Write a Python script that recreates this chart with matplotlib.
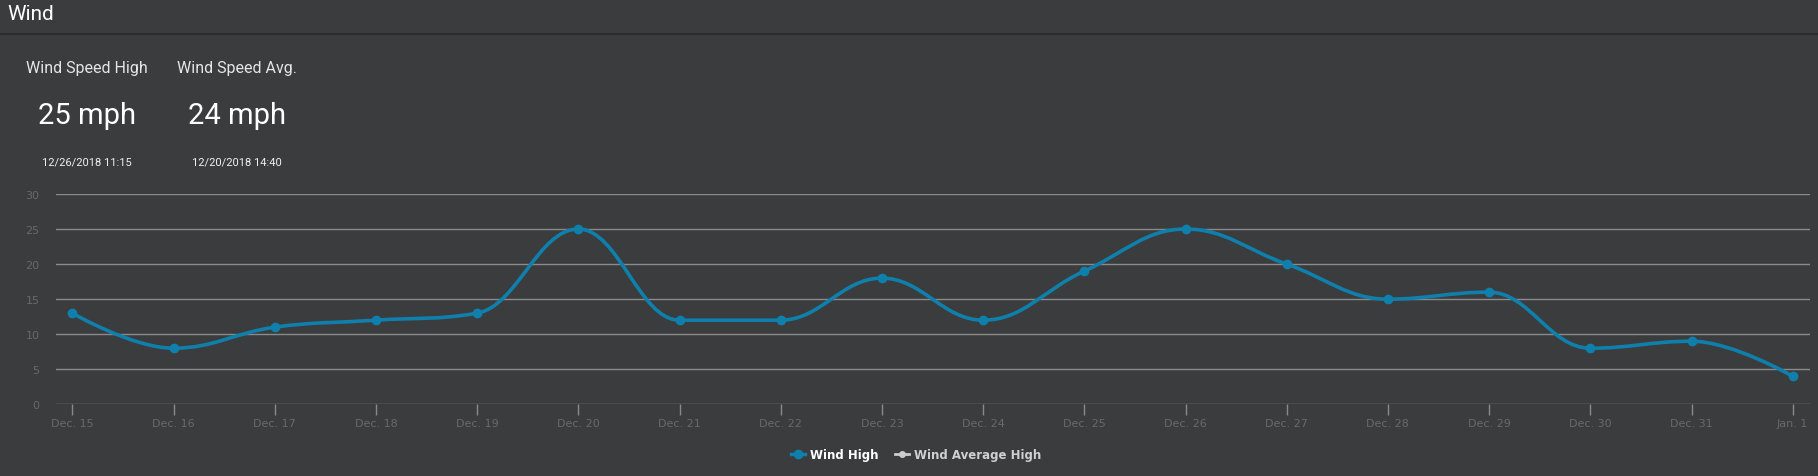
import numpy as np
import matplotlib.pyplot as plt
from matplotlib.path import Path
from matplotlib.patches import PathPatch
from matplotlib.lines import Line2D

# data
days = ['Dec. 15', 'Dec. 16', 'Dec. 17', 'Dec. 18', 'Dec. 19', 'Dec. 20',
        'Dec. 21', 'Dec. 22', 'Dec. 23', 'Dec. 24', 'Dec. 25', 'Dec. 26',
        'Dec. 27', 'Dec. 28', 'Dec. 29', 'Dec. 30', 'Dec. 31', 'Jan. 1']
wind_high = [13, 8, 11, 12, 13, 25, 12, 12, 18, 12, 19, 25, 20, 15, 16, 8, 9, 4]
y_ticks = [0, 5, 10, 15, 20, 25, 30]

stat_titles = ['Wind Speed High', 'Wind Speed Avg.']
stat_values = ['25 mph', '24 mph']
stat_times = ['12/26/2018 11:15', '12/20/2018 14:40']

BG = '#3b3c3e'
LINE = '#0f7fab'
GRID = '#8a8a8c'
TICK = '#68696b'

W, H = 1818, 477
fig = plt.figure(figsize=(W / 100, H / 100), dpi=100, facecolor=BG)


def fx(px):
    return px / W


def fy(py):
    return 1 - py / H


# header
fig.text(fx(7), fy(15), 'Wind', color='white', fontsize=15, family='Roboto',
         va='center', ha='left')
fig.add_artist(Line2D([0, 1], [fy(35), fy(35)], color='#28292a', lw=1.2))

# stat blocks
for i, (t, v, d) in enumerate(zip(stat_titles, stat_values, stat_times)):
    cx = 87 + i * 150
    fig.text(fx(cx), fy(68), t, color='#e6e6e6', fontsize=11.5, family='Roboto',
             ha='center', va='center')
    fig.text(fx(cx), fy(116), v, color='white', fontsize=21, family='Roboto',
             ha='center', va='center')
    fig.text(fx(cx), fy(163), d, color='#f0f0f0', fontsize=8, family='Roboto',
             ha='center', va='center')

# chart
ax = fig.add_axes([fx(56), fy(405.3), fx(1810 - 56), (405.3 - 195) / H])
ax.set_facecolor(BG)
x = np.arange(len(days))
ax.set_xlim(-16.3 / 101.2, (1810 - 72.3) / 101.2)
ax.set_ylim(0, 30)

for v in y_ticks:
    ax.axhline(v, color=GRID, lw=1, zorder=1)


# highcharts-like spline path through the points
def spline_path(xs, ys, smoothing=1.5):
    denom = smoothing + 1
    n = len(xs)
    lc = [None] * n
    rc = [None] * n
    for i in range(1, n - 1):
        px, py = xs[i], ys[i]
        lx, ly = xs[i - 1], ys[i - 1]
        nx, ny = xs[i + 1], ys[i + 1]
        lcx = (smoothing * px + lx) / denom
        lcy = (smoothing * py + ly) / denom
        rcx = (smoothing * px + nx) / denom
        rcy = (smoothing * py + ny) / denom
        if rcx != lcx:
            corr = (rcy - lcy) * (rcx - px) / (rcx - lcx) + py - rcy
            lcy += corr
            rcy += corr
        if lcy > ly and lcy > py:
            lcy = max(ly, py)
            rcy = 2 * py - lcy
        elif lcy < ly and lcy < py:
            lcy = min(ly, py)
            rcy = 2 * py - lcy
        if rcy > ny and rcy > py:
            rcy = max(ny, py)
            lcy = 2 * py - rcy
        elif rcy < ny and rcy < py:
            rcy = min(ny, py)
            lcy = 2 * py - rcy
        lc[i] = (lcx, lcy)
        rc[i] = (rcx, rcy)
    verts = [(xs[0], ys[0])]
    codes = [Path.MOVETO]
    for i in range(1, n):
        c1 = rc[i - 1] if rc[i - 1] is not None else (xs[i - 1], ys[i - 1])
        c2 = lc[i] if lc[i] is not None else (xs[i], ys[i])
        verts += [c1, c2, (xs[i], ys[i])]
        codes += [Path.CURVE4] * 3
    return Path(verts, codes)


path = spline_path(list(x.astype(float)), [float(v) for v in wind_high])
ax.add_patch(PathPatch(path, facecolor='none', edgecolor=LINE, lw=2.6,
                       zorder=3, capstyle='round', joinstyle='round'))
ax.plot(x, wind_high, 'o', color=LINE, ms=6, zorder=4)

ax.set_xticks(x)
ax.set_xticklabels(days)
ax.set_yticks(y_ticks)
ax.tick_params(axis='x', length=8, width=1, color=GRID, labelcolor=TICK,
               labelsize=8, pad=2)
ax.tick_params(axis='y', length=0, labelcolor=TICK, labelsize=8, pad=12)
for s in ax.spines.values():
    s.set_visible(False)

# legend
h1 = Line2D([], [], color=LINE, lw=2.5, marker='o', ms=6)
h2 = Line2D([], [], color='#cccccc', lw=2, marker='o', ms=4)
leg = fig.legend([h1, h2], ['Wind High', 'Wind Average High'],
                 loc='center', bbox_to_anchor=(fx(916), fy(456)), ncol=2,
                 frameon=False, handlelength=1.2, handletextpad=0.4,
                 columnspacing=1.4, prop={'weight': 'bold', 'size': 8.5})
leg.get_texts()[0].set_color('white')
leg.get_texts()[1].set_color('#d0d0d0')

fig.savefig('out.png', dpi=100, facecolor=BG)
